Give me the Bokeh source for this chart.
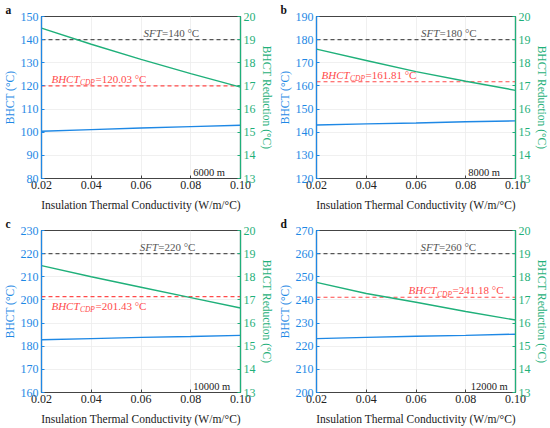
from bokeh.plotting import figure
from bokeh.models import Range1d, LinearAxis, FixedTicker, PrintfTickFormatter
from bokeh.layouts import gridplot
from bokeh.embed import file_html
from bokeh.resources import INLINE
from bokeh.core.properties import value

# ---------------- data ----------------
conductivity = [0.02, 0.04, 0.06, 0.08, 0.10]
x_ticks = [0.02, 0.04, 0.06, 0.08, 0.10]

panel_letters = ["a", "b", "c", "d"]
depth_labels = ["6000 m", "8000 m", "10000 m", "12000 m"]

bhct_a = [100.4, 101.1, 101.8, 102.4, 103.0]
bhct_b = [143.1, 143.6, 144.0, 144.5, 144.9]
bhct_c = [182.8, 183.3, 183.8, 184.2, 184.7]
bhct_d = [223.3, 223.8, 224.3, 224.7, 225.2]

reduction_a = [19.50, 18.80, 18.15, 17.53, 16.95]
reduction_b = [18.59, 18.10, 17.62, 17.20, 16.81]
reduction_c = [18.48, 18.00, 17.55, 17.10, 16.65]
reduction_d = [17.76, 17.28, 16.90, 16.50, 16.13]

sft_values = [140, 180, 220, 260]
cdp_values = [120.03, 161.81, 201.43, 241.18]

bhct_ranges = [(80, 150), (120, 190), (160, 230), (200, 270)]
reduction_range = (13, 20)
reduction_ticks = [13, 14, 15, 16, 17, 18, 19, 20]

sft_label_x = [0.061, 0.062, 0.0595, 0.0618]
cdp_label_x = [0.024, 0.022, 0.024, 0.057]
cdp_label_below = [False, False, True, False]
depth_label_x = [0.081, 0.081, 0.081, 0.082]

bhct_series = [bhct_a, bhct_b, bhct_c, bhct_d]
reduction_series = [reduction_a, reduction_b, reduction_c, reduction_d]

# ---------------- style ----------------
FONT = value("Liberation Serif")
BLUE = "#1e88e5"
GREEN = "#1fb07a"
RED = "#ff4a4a"
GRAY = "#555555"
TXT = "#222222"
ANN = "11px"
SUB = "7.5px"


def style_axis(ax, color, label, line_color=None):
    ax.axis_label = label
    ax.axis_label_text_font = "Liberation Serif"
    ax.axis_label_text_font_size = "11.5px"
    ax.axis_label_text_font_style = "normal"
    ax.axis_label_text_color = color
    ax.major_label_text_font = "Liberation Serif"
    ax.major_label_text_font_size = "12px"
    ax.major_label_text_color = color
    ax.axis_line_color = line_color or color
    ax.axis_line_width = 1.2
    ax.major_tick_in = 3
    ax.major_tick_out = 0
    ax.major_tick_line_color = line_color or color
    ax.minor_tick_in = 0
    ax.minor_tick_out = 0


def make_panel(i):
    lo, hi = bhct_ranges[i]
    p = figure(width=275, height=214,
               x_range=Range1d(0.02, 0.10), y_range=Range1d(lo, hi),
               output_backend="svg", toolbar_location=None,
               min_border_left=40, min_border_right=34,
               min_border_top=16, min_border_bottom=36)
    p.outline_line_color = "#444444"
    p.outline_line_width = 1.2

    # panel letter as title
    p.title.text = panel_letters[i]
    p.title.align = "left"
    p.title.offset = -36
    p.title.standoff = 1
    p.title.text_font = "Liberation Serif"
    p.title.text_font_size = "11.5px"
    p.title.text_font_style = "bold"
    p.title.text_color = "#111111"

    p.extra_y_ranges = {"red": Range1d(*reduction_range)}

    # grid
    p.xgrid.ticker = FixedTicker(ticks=x_ticks)
    p.ygrid.ticker = FixedTicker(ticks=list(range(lo, hi + 1, 10)))
    p.xgrid.grid_line_color = "#ececec"
    p.ygrid.grid_line_color = "#ececec"
    p.xgrid.grid_line_width = 0.8
    p.ygrid.grid_line_width = 0.8

    # x axis
    xa = p.xaxis[0]
    style_axis(xa, TXT, "Insulation Thermal Conductivity (W/m/°C)", "#444444")
    xa.ticker = FixedTicker(ticks=x_ticks)
    xa.formatter = PrintfTickFormatter(format="%.2f")
    xa.axis_label_standoff = 7
    xa.major_label_standoff = 2

    # left axis
    ya = p.yaxis[0]
    style_axis(ya, BLUE, "BHCT (°C)")
    ya.ticker = FixedTicker(ticks=list(range(lo, hi + 1, 10)))
    ya.axis_label_standoff = 2
    ya.major_label_standoff = 3

    # right axis
    ra = LinearAxis(y_range_name="red")
    style_axis(ra, GREEN, "BHCT Reduction (°C)")
    ra.ticker = FixedTicker(ticks=reduction_ticks)
    ra.axis_label_standoff = 2
    ra.major_label_standoff = 3
    p.add_layout(ra, "right")

    # reference lines
    p.line(x=[x_ticks[0], x_ticks[-1]], y=[sft_values[i], sft_values[i]],
           line_color=GRAY, line_dash="4 3", line_width=1.1)
    p.line(x=[x_ticks[0], x_ticks[-1]], y=[cdp_values[i], cdp_values[i]],
           line_color=RED, line_dash="4 3", line_width=1.1)

    # series
    p.line(x=conductivity, y=bhct_series[i], line_color=BLUE, line_width=1.4)
    p.line(x=conductivity, y=reduction_series[i], line_color=GREEN,
           line_width=1.4, y_range_name="red")

    # SFT label (above line)
    p.text(x=[sft_label_x[i]], y=[sft_values[i]], text=["SFT"],
           text_font=FONT, text_font_size=ANN, text_font_style="italic",
           text_color=GRAY, text_baseline="bottom", y_offset=-1)
    p.text(x=[sft_label_x[i]], y=[sft_values[i]],
           text=["=%d °C" % sft_values[i]],
           text_font=FONT, text_font_size=ANN, text_color=GRAY,
           text_baseline="bottom", y_offset=-1, x_offset=18.5)

    # BHCT_CDP label
    if cdp_label_below[i]:
        base, yo_main, yo_sub = "top", 3, 8.5
    else:
        base, yo_main, yo_sub = "bottom", -1, 1.5
    p.text(x=[cdp_label_x[i]], y=[cdp_values[i]], text=["BHCT"],
           text_font=FONT, text_font_size=ANN, text_font_style="italic",
           text_color=RED, text_baseline=base, y_offset=yo_main)
    p.text(x=[cdp_label_x[i]], y=[cdp_values[i]], text=["CDP"],
           text_font=FONT, text_font_size=SUB, text_font_style="italic",
           text_color=RED, text_baseline=base, y_offset=yo_sub,
           x_offset=28.5)
    p.text(x=[cdp_label_x[i]], y=[cdp_values[i]],
           text=["=%.2f °C" % cdp_values[i]],
           text_font=FONT, text_font_size=ANN,
           text_color=RED, text_baseline=base, y_offset=yo_main,
           x_offset=44)

    # depth label
    p.text(x=[depth_label_x[i]], y=[lo], text=[depth_labels[i]],
           text_font=FONT, text_font_size="10.5px", text_color=TXT,
           text_baseline="bottom", y_offset=-1)
    return p


panels = [make_panel(i) for i in range(4)]
grid = gridplot([[panels[0], panels[1]], [panels[2], panels[3]]],
                toolbar_location=None)

open("out.html", "w").write(file_html(grid, INLINE))
